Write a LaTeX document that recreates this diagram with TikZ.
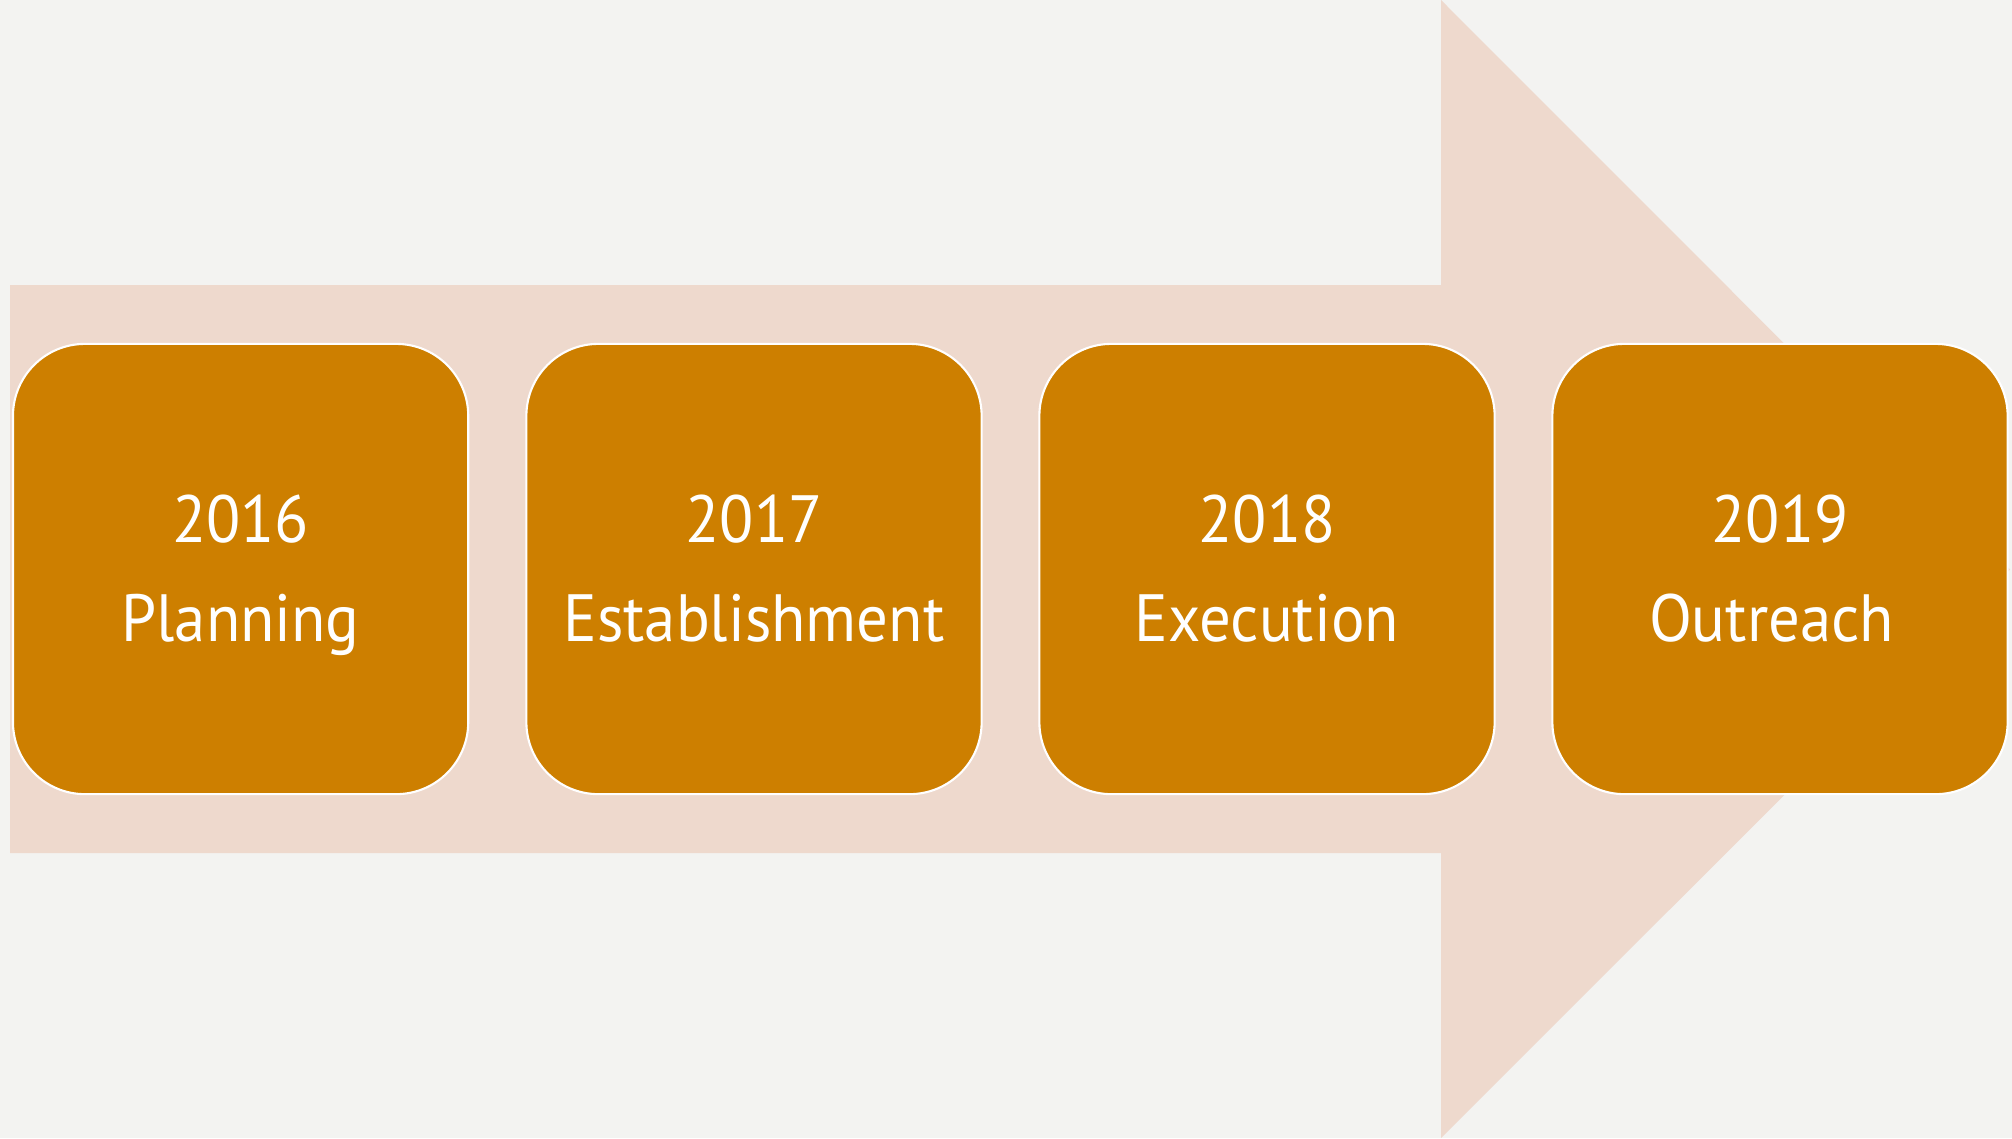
\documentclass[tikz,border=0pt]{standalone}
\usepackage{fontspec}
\setmainfont{PT Sans}[FakeStretch=0.94]
\definecolor{paper}{HTML}{F3F3F1}
\definecolor{arrowpink}{HTML}{EED9CD}
\definecolor{stagegold}{HTML}{CD7F00}

\def\bigarrow{(10,285) -- (1441,285) -- (1441,0) -- (2010,569.5) -- (1441,1138) -- (1441,853) -- (10,853) -- cycle}

\begin{document}
\begin{tikzpicture}[x=0.01cm,y=-0.01cm]
    \tikzstyle{stage}=[draw=white, line width=0.6pt, fill=stagegold, rounded corners=0.72cm,
      minimum width=4.55cm, minimum height=4.5cm, text=white, align=center,
      font=\fontsize{19}{28}\selectfont]
    \fill[paper] (0,0) rectangle (2012,1138);
    \fill[arrowpink] \bigarrow;
    \foreach \t/\x/\yr/\w in { plan/240.6/2016/Planning, estab/754/2017/Establishment,
    exec/1267/2018/Execution, outr/1780/2019/Outreach }
        \node[stage] (\t) at (\x,569) {\rule{0pt}{17pt}\yr\\\w\vphantom{g}};
\end{tikzpicture}
\end{document}
